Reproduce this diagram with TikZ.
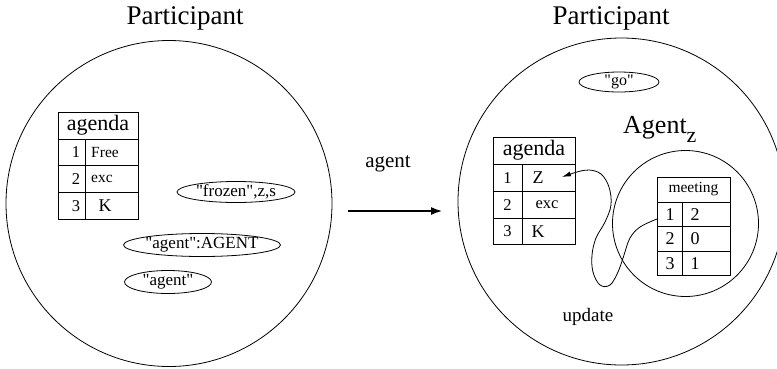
\documentclass[tikz,border=0pt]{standalone}
\usepackage{fontspec}
\setmainfont{Liberation Serif}[Ligatures=TeXOff]
\usetikzlibrary{shapes.geometric,arrows.meta}
\begin{document}
\begin{tikzpicture}[x=1pt,y=-1pt,
  circ/.style={draw, circle, inner sep=0pt, line width=0.8pt},
  oval/.style={draw, line width=0.8pt},
  cell/.style={draw, rectangle, inner sep=0pt, line width=0.8pt},
  txt/.style={inner sep=0pt},
  ttl/.style={inner sep=0pt, anchor=base, font=\fontsize{27}{30}\selectfont},
  hdr/.style={inner sep=0pt, font=\fontsize{22}{24}\selectfont},
  small/.style={inner sep=0pt, font=\fontsize{15.5}{17}\selectfont},
  mid/.style={inner sep=0pt, font=\fontsize{18}{20}\selectfont},
  ovtxt/.style={inner sep=0pt, font=\fontsize{17}{19}\selectfont},
]
\useasboundingbox (0,0) rectangle (777,368);

% ---------- left participant ----------
\node[ttl] (T1) at (185,24) {Participant};
\node[circ, minimum size=326pt] (P1) at (169,203.5) {};

% left agenda table
\node[cell, minimum width=80pt, minimum height=27pt] (LAh) at (98,125.5) {};
\node[cell, minimum width=27pt, minimum height=26.7pt] (LA1i) at (71.5,152.3) {};
\node[cell, minimum width=53pt, minimum height=26.7pt] (LA1v) at (111.5,152.3) {};
\node[cell, minimum width=27pt, minimum height=26.7pt] (LA2i) at (71.5,179) {};
\node[cell, minimum width=53pt, minimum height=26.7pt] (LA2v) at (111.5,179) {};
\node[cell, minimum width=27pt, minimum height=26.7pt] (LA3i) at (71.5,205.7) {};
\node[cell, minimum width=53pt, minimum height=26.7pt] (LA3v) at (111.5,205.7) {};
\node[hdr] (LAht) at (98,125.5) {agenda};
\node[small, font=\fontsize{16.5}{18}\selectfont] (LA1n) at (76,152.3) {1};
\node[small, font=\fontsize{16.5}{18}\selectfont] (LA2n) at (76,179) {2};
\node[small, font=\fontsize{16.5}{18}\selectfont] (LA3n) at (76,205.7) {3};
\node[small] (LA1t) at (105,152.3) {Free};
\node[small] (LA2t) at (102,179) {exc};
\node[mid] (LA3t) at (105,205.7) {K};

% left ovals
\node[ovtxt] (O1) at (236,192) {"frozen",z,s};
\draw[oval] (O1.center) ellipse [x radius=59pt, y radius=10.5pt];
\node[ovtxt] (O2) at (202,245) {"agent":AGENT};
\draw[oval] (O2.center) ellipse [x radius=78.5pt, y radius=11.5pt];
\node[ovtxt] (O3) at (168,282) {"agent"};
\draw[oval] (O3.center) ellipse [x radius=43.5pt, y radius=11.5pt];

% ---------- middle arrow ----------
\coordinate (A1) at (348,211);
\coordinate (A2) at (443,211);
\draw[line width=2.8pt, -{Latex[length=12pt,width=8pt]}] (A1) -- (A2);
\node[txt, anchor=base, font=\fontsize{21}{23}\selectfont] (AL) at (388,167) {agent};

% ---------- right participant ----------
\node[ttl] (T2) at (611,24) {Participant};
\node[circ, minimum size=327pt] (P2) at (621.5,201.5) {};
\node[ovtxt, font=\fontsize{16}{18}\selectfont] (GO) at (619,82) {"go"};
\draw[oval] (GO.center) ellipse [x radius=40pt, y radius=10pt];
\node[txt, anchor=base west, font=\fontsize{26}{30}\selectfont] (AZ) at (623,133) {Agent\raisebox{-9pt}{\fontsize{22}{24}\selectfont z}};
\node[circ, minimum size=146pt] (P3) at (685.5,223.5) {};

% right agenda table
\node[cell, minimum width=82pt, minimum height=27pt] (RAh) at (534,150.5) {};
\node[cell, minimum width=29pt, minimum height=27pt] (RA1i) at (507.5,178) {};
\node[cell, minimum width=53pt, minimum height=27pt] (RA1v) at (548.5,178) {};
\node[cell, minimum width=29pt, minimum height=27pt] (RA2i) at (507.5,205) {};
\node[cell, minimum width=53pt, minimum height=27pt] (RA2v) at (548.5,205) {};
\node[cell, minimum width=29pt, minimum height=26pt] (RA3i) at (507.5,231.5) {};
\node[cell, minimum width=53pt, minimum height=26pt] (RA3v) at (548.5,231.5) {};
\node[hdr] (RAht) at (534,150.5) {agenda};
\node[small, font=\fontsize{16.5}{18}\selectfont] (RA1n) at (507.5,178) {1};
\node[small, font=\fontsize{16.5}{18}\selectfont] (RA2n) at (507.5,205) {2};
\node[small, font=\fontsize{16.5}{18}\selectfont] (RA3n) at (507.5,231.5) {3};
\node[mid] (RA1t) at (538,178) {Z};
\node[small, font=\fontsize{16.5}{18}\selectfont] (RA2t) at (547,205) {exc};
\node[mid] (RA3t) at (538,231.5) {K};

% meeting table
\node[cell, minimum width=73pt, minimum height=25pt] (MTh) at (693.5,189.5) {};
\node[cell, minimum width=25pt, minimum height=24.5pt] (MT1i) at (669.5,214.3) {};
\node[cell, minimum width=48pt, minimum height=24.5pt] (MT1v) at (706,214.3) {};
\node[cell, minimum width=25pt, minimum height=24.5pt] (MT2i) at (669.5,238.8) {};
\node[cell, minimum width=48pt, minimum height=24.5pt] (MT2v) at (706,238.8) {};
\node[cell, minimum width=25pt, minimum height=24.5pt] (MT3i) at (669.5,263.3) {};
\node[cell, minimum width=48pt, minimum height=24.5pt] (MT3v) at (706,263.3) {};
\node[small] (MTht) at (693.5,189.5) {meeting};
\node[mid] (MT1n) at (670,214.3) {1};
\node[mid] (MT2n) at (670,238.8) {2};
\node[mid] (MT3n) at (670,263.3) {3};
\node[mid] (MT1t) at (695,214.3) {2};
\node[mid] (MT2t) at (695,238.8) {0};
\node[mid] (MT3t) at (695,263.3) {1};

% update connector
\coordinate (CS) at (657,219);
\coordinate (CE) at (562,177);
\draw[line width=0.8pt, -{Latex[length=9pt,width=5pt]}] plot[smooth, tension=0.6] coordinates {(CS) (640,227) (630,238) (624,255) (618,272) (610,285) (600,285) (593,272) (592,255) (596,238) (605,222) (611,205) (609,187) (601,174) (589,170) (577,172) (CE)};
\node[txt, font=\fontsize{19}{21}\selectfont] (UP) at (588,317) {update};

\end{tikzpicture}
\end{document}
